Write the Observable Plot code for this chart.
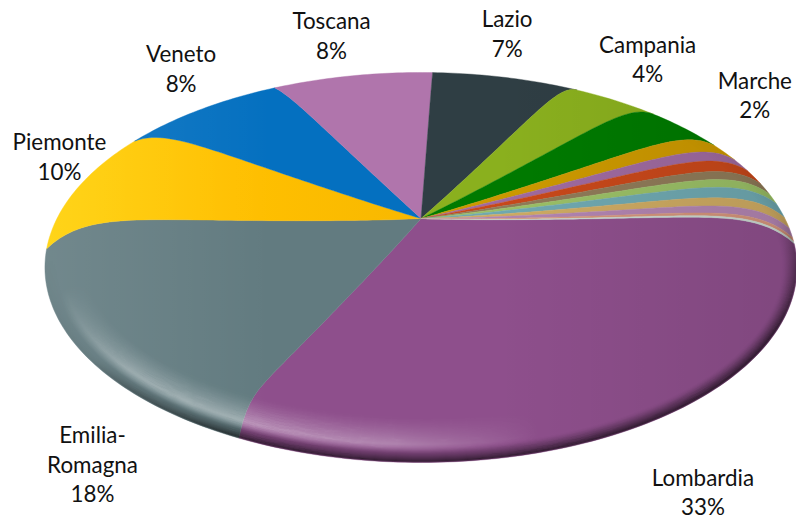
<!DOCTYPE html>
<html><head><meta charset="utf-8">
<style>html,body{margin:0;padding:0;background:#fff}</style>
<script src="https://cdn.jsdelivr.net/npm/d3@7"></script>
<script src="https://cdn.jsdelivr.net/npm/@observablehq/plot@0.6"></script>
</head><body><div id="chart"></div>
<script>
// Apparent share of each slice
const regions = ["Lombardia","Emilia-Romagna","Piemonte","Veneto","Toscana","Lazio","Campania","Umbria","Marche","Liguria","Friuli","Puglia","Abruzzo","Trentino","Sardegna","Sicilia","Calabria","Altre"];
const shares = [29.2,16.2,10.4,9,8.8,8.1,4.7,4.25,1.67,1.17,1.3,.97,.92,1.22,.92,.78,.33,.17];
const colors = ["#8e4f8c","#627b80","url(#yellow)","#0470c0","#b075ac","#2f3e44","#8ab01e","#007a00","#cc9900","#9f6a9f","#c8481a","#8f7a58","#9abf66","#6fa8b0","#cdaa62","#b184b0","#d4947a","#c8d8d0"];
const labelText = ["Lombardia\n33%","Emilia-\nRomagna\n18%","Piemonte\n10%","Veneto\n8%","Toscana\n8%","Lazio\n7%","Campania\n4%",null,"Marche\n2%"];
const labelDx = [50,10,-17,-19,-21,1,31,0,30];
const labelDy = [70,111,-34,-42,-41,-45,-43,0,-58.5];

// Tilted, domed disc
const cx=420.5, cy=218, a=364, b=182.7, k=0.2513, startDeg=7.6;
const ex=376, ey=195, ecy=267; // rim outline half-axes and centre
const rad=d=>d*Math.PI/180;
const dome=d3.scaleLinear().domain([0,60,112,170,208,240,272,300,333,360]).range([20,24,24,22,13,4,2,12,15,20]);
const sharp=d3.scaleLinear().domain([40,112,150]).range([10,22,10]).clamp(true);
function P(r,deg){
  const u=r*Math.cos(rad(deg)), v=r*Math.sin(rad(deg)), w=1-k*v;
  const sn=Math.sin(rad(deg)), f=r===0?0:r/(1-k*r*sn)*(1-k*sn);
  const dg=((deg%360)+360)%360, p=sharp(dg);
  const s=Math.pow(f,1.3)*(1-Math.pow(f,p))/(0.668+(p-10)*0.0095);
  return [cx+a*u/w, cy+b*v/w - dome(dg)*s];
}
const total=d3.sum(shares);
let acc=startDeg;
const slices=regions.map((name,i)=>{const s=acc,e=acc+shares[i]/total*360;acc=e;return {name,s,e,i};});
const rows=[];
for(const sl of slices){
  const add=(r,d)=>{const [x,y]=P(r,d);rows.push({name:sl.name,x,y});};
  for(let j=0;j<=60;j++) add(j/60,sl.s);
  const n=Math.max(2,Math.ceil((sl.e-sl.s)));
  for(let j=1;j<=n;j++) add(1,sl.s+(sl.e-sl.s)*j/n);
  for(let j=59;j>=1;j--) add(j/60,sl.e);
}
const disc=d3.range(0,360.5,1).map(d=>{const [x,y]=P(1,d);return {x,y};});
// Bevel shading: overlapping soft rings inset from the rim by a constant distance
const ring=(inset,o)=>disc.map(p=>({t:inset,o:1-Math.sqrt(1-o),x:cx+(p.x-cx)*(ex-inset)/ex,y:ecy+(p.y-ecy)*(ey-inset)/ey}));
const darkRings=d3.range(1,15,1).flatMap(t=>ring(t,0.7*Math.pow(1-t/15,1.3)));
const lightAlpha=t=>t<9?0:t<18?0.4*(t-9)/9:0.4*Math.pow(1-(t-18)/30,1.5);
const lightRings=d3.range(9,48,1).flatMap(t=>ring(t,lightAlpha(t)));
const labels=labelText.map((t,i)=>{ if(!t) return null; const m=(slices[i].s+slices[i].e)/2; const [x,y]=P(1,m); return {t,x:x+labelDx[i],y:y+labelDy[i]};}).filter(Boolean);

const svg=Plot.plot({
  width:796,height:519,margin:0,
  x:{domain:[0,796],range:[0,796],axis:null},
  y:{domain:[0,519],range:[0,519],axis:null},
  color:{domain:regions,range:colors},
  opacity:{domain:[0,1],range:[0,1]},
  style:{background:"#fff"},
  marks:[
    Plot.line(rows,{x:"x",y:"y",z:"name",fill:"name",stroke:"name",strokeWidth:0.4,curve:"linear"}),
    Plot.line(disc,{x:"x",y:"y",fill:"url(#side)",stroke:"none",curve:"linear"}),
    Plot.line(lightRings,{x:"x",y:"y",z:"t",stroke:"#fff",strokeOpacity:"o",strokeWidth:2,curve:"linear"}),
    Plot.line(darkRings,{x:"x",y:"y",z:"t",stroke:"#000",strokeOpacity:"o",strokeWidth:2,curve:"linear"}),
    Plot.text(labels,{x:"x",y:"y",text:"t",fontFamily:"Lato",fontSize:22.4,lineHeight:1.32,fill:"#111"})
  ]
});
const defs=d3.select(svg).insert("defs",":first-child");
const addStops=(g,stops)=>stops.forEach(([o,c,op])=>g.append("stop").attr("offset",o).attr("stop-color",c).attr("stop-opacity",op));
function linear(id,x1,y1,x2,y2,stops){
  addStops(defs.append("linearGradient").attr("id",id).attr("gradientUnits","userSpaceOnUse")
    .attr("x1",x1).attr("y1",y1).attr("x2",x2).attr("y2",y2),stops);
}
function radial(id,x,y,rx,ry,stops){
  addStops(defs.append("radialGradient").attr("id",id).attr("gradientUnits","userSpaceOnUse")
    .attr("cx",0).attr("cy",0).attr("r",rx).attr("gradientTransform",`translate(${x} ${y}) scale(1 ${ry/rx})`),stops);
}
function mask(id,fill){
  defs.append("mask").attr("id",id).attr("maskUnits","userSpaceOnUse").attr("x",0).attr("y",0).attr("width",796).attr("height",519)
    .append("rect").attr("width",796).attr("height",519).attr("fill",fill);
}
linear("yellow",45,0,420,0,[[0,"#ffd000",1],[.5,"#ffc000",1],[1,"#f8b800",1]]);
linear("side",45,0,796,0,[[0,"#fff",.1],[.3,"#fff",0],[.6,"#000",0],[1,"#000",.1]]);
radial("mlg",240,425,300,170,[[0,"#fff",1],[.5,"#fff",.8],[1,"#fff",0]]);
linear("mdg",52,254.7,96,470.3,[[0,"#fff",0],[.5,"#fff",.12],[.65,"#fff",.45],[1,"#fff",1]]);
mask("maskl","url(#mlg)");
mask("maskd","url(#mdg)");
d3.select(svg).selectAll('g[stroke="#fff"]').attr("mask","url(#maskl)");
d3.select(svg).selectAll('g[stroke="#000"]').attr("mask","url(#maskd)");
document.getElementById("chart").appendChild(svg);
</script></body></html>
